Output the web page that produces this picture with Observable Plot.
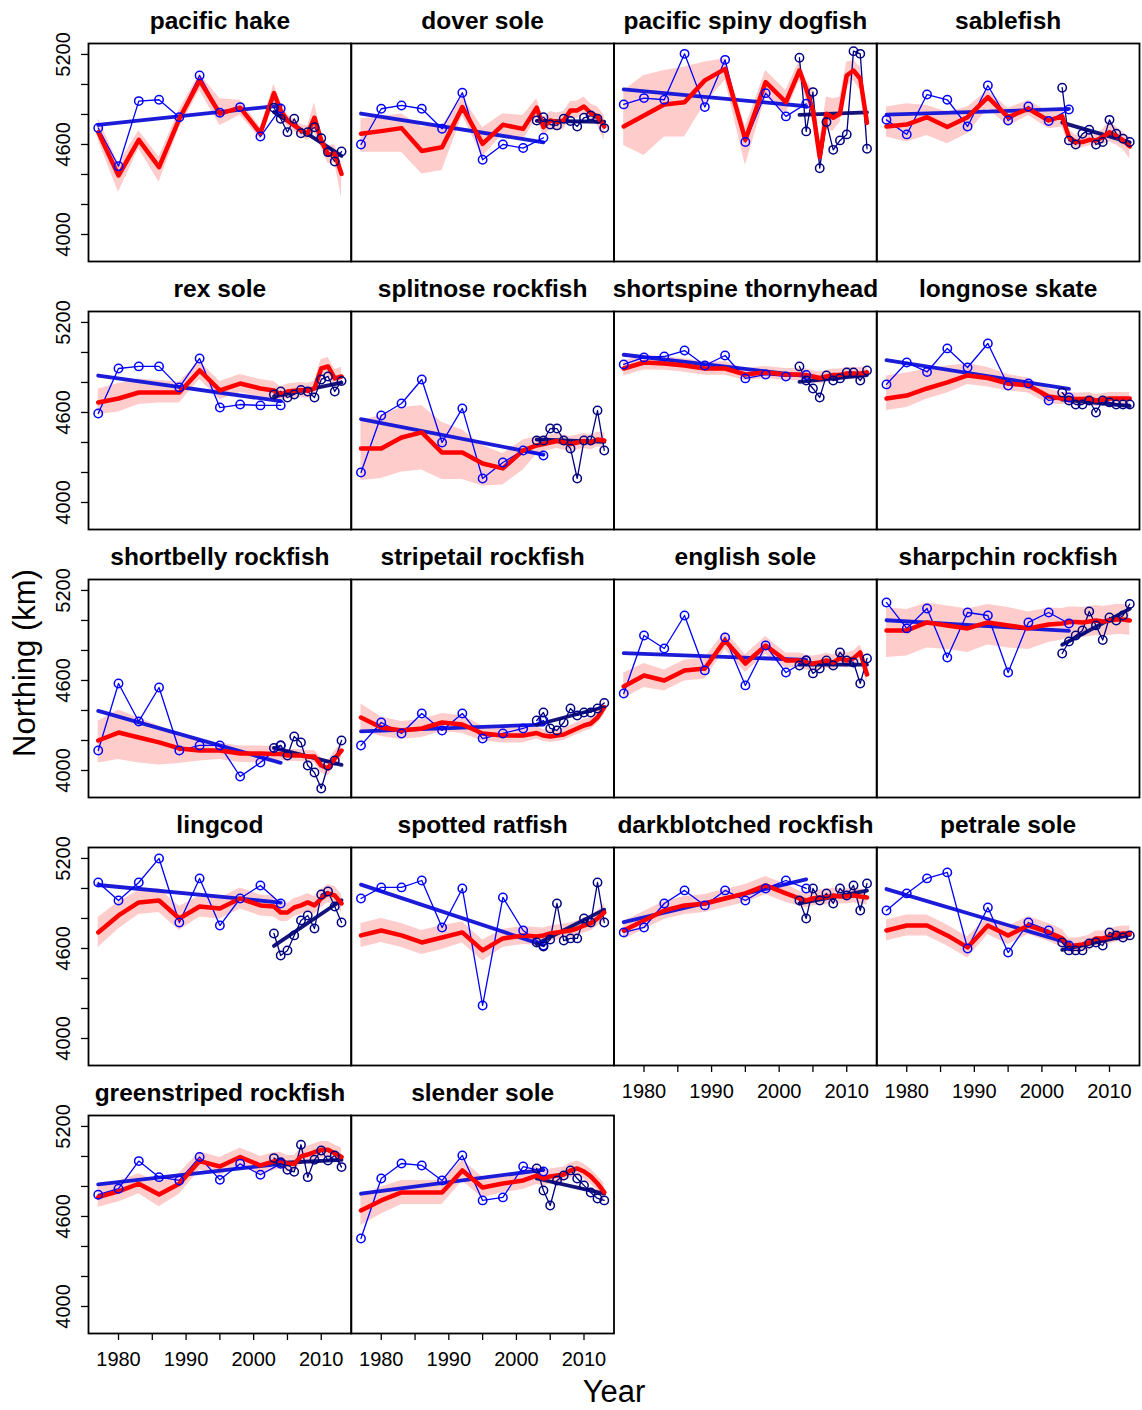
<!DOCTYPE html>
<html><head><meta charset="utf-8">
<script src="https://cdn.jsdelivr.net/npm/d3@7"></script>
<script src="https://cdn.jsdelivr.net/npm/@observablehq/plot@0.6"></script>
<style>body{margin:0;background:#fff;} #chart{width:1142px;height:1410px;}</style>
</head><body><div id="chart"></div>
<script>
// ---------------- DATA ----------------
const species = ["pacific hake","dover sole","pacific spiny dogfish","sablefish",
  "rex sole","splitnose rockfish","shortspine thornyhead","longnose skate",
  "shortbelly rockfish","stripetail rockfish","english sole","sharpchin rockfish",
  "lingcod","spotted ratfish","darkblotched rockfish","petrale sole",
  "greenstriped rockfish","slender sole"];

const triYears = [1977,1980,1983,1986,1989,1992,1995,1998,2001,2004];
const annYears = [2003,2004,2005,2006,2007,2008,2009,2010,2011,2012,2013];
const modYears = [1977,1980,1983,1986,1989,1992,1995,1998,2001,2003,2004,2005,2006,2007,2008,2009,2010,2011,2012,2013];

const yTicks = [4000,4200,4400,4600,4800,5000,5200];
const yLabels = [4000,4600,5200];
const xTicks = [1980,1985,1990,1995,2000,2005,2010];
const xLabels = [1980,1990,2000,2010];

// triennial survey observations
const tri = [
  [4710,4455,4889,4898,4782,5060,4811,4849,4653,4840],
  [4600,4838,4860,4838,4705,4945,4498,4600,4576,4645],
  [4867,4909,4898,5204,4849,5164,4616,4942,4787,4871],
  [4764,4667,4933,4898,4720,4993,4760,4853,4756,4833],
  [4593,4893,4907,4907,4767,4960,4633,4653,4647,4647],
  [4200,4580,4660,4820,4400,4627,4160,4267,4347,4313],
  [4920,4967,4973,5013,4913,4980,4827,4853,4840,4850],
  [4787,4933,4870,5027,4900,5060,4780,4793,4680,4700],
  [4133,4580,4327,4553,4133,4167,4167,3960,4053,4167],
  [4167,4320,4247,4380,4267,4380,4213,4247,4280,4333],
  [4513,4900,4813,5033,4667,4887,4567,4833,4653,4733],
  [5120,4947,5080,4753,5053,5033,4653,4987,5053,4980],
  [5040,4920,5040,5200,4773,5067,4753,4933,5020,4900],
  [4933,5007,5007,5053,4740,5000,4220,4940,4720,4620],
  [4707,4740,4900,4987,4887,4987,4920,5000,5053,5000],
  [4853,4967,5067,5107,4600,4873,4573,4773,4720,4620],
  [4745,4785,4969,4862,4840,4996,4844,4951,4878,4951],
  [4453,4853,4953,4940,4840,5007,4707,4727,4933,4900]
];

// annual survey observations
const ann = [
  [4845,4771,4682,4771,4675,4682,4715,4642,4549,4487,4553],
  [4760,4782,4733,4727,4771,4756,4720,4778,4793,4771,4709],
  [5178,4687,4949,4442,4749,4564,4627,4667,5222,5204,4571],
  [4978,4627,4600,4671,4698,4600,4616,4764,4671,4638,4616],
  [4720,4740,4700,4720,4750,4740,4700,4820,4840,4740,4810],
  [4413,4413,4493,4493,4413,4360,4160,4413,4413,4613,4347],
  [4907,4813,4760,4700,4847,4813,4827,4867,4867,4813,4880],
  [4733,4680,4653,4653,4680,4600,4680,4667,4653,4653,4653],
  [4150,4167,4100,4227,4187,4033,3987,3880,4033,4067,4200],
  [4333,4387,4280,4267,4320,4413,4367,4387,4387,4413,4450],
  [4700,4733,4647,4680,4733,4700,4787,4733,4720,4580,4747],
  [4780,4860,4900,4933,5060,4967,4870,5020,5000,5033,5110],
  [4700,4553,4587,4687,4787,4820,4733,4960,4980,4880,4773],
  [4640,4613,4660,4900,4653,4667,4667,4800,4773,5040,4773],
  [4920,4800,5000,4920,4967,4900,5000,4953,5020,4853,5033],
  [4640,4587,4587,4587,4633,4640,4620,4707,4687,4673,4687],
  [4989,4962,4911,4898,5078,4862,4978,5040,4973,5007,4929],
  [4920,4773,4673,4840,4873,4907,4853,4807,4760,4720,4707]
];

// model estimate
const mod = [
  [4682,4393,4631,4449,4771,5027,4805,4845,4675,4942,4827,4760,4727,4693,4675,4778,4627,4533,4538,4404],
  [4671,4689,4709,4556,4582,4849,4604,4731,4704,4845,4716,4760,4749,4760,4827,4827,4853,4809,4787,4720],
  [4720,4793,4867,4882,5027,5104,4631,5016,4882,5093,4971,4827,4516,4805,4778,4805,5060,5093,5038,4744],
  [4720,4733,4782,4716,4782,4916,4782,4838,4760,4787,4649,4616,4616,4631,4627,4649,4682,4656,4627,4587],
  [4667,4693,4733,4733,4733,4880,4747,4793,4760,4747,4720,4740,4745,4750,4745,4760,4893,4907,4827,4840],
  [4360,4360,4433,4467,4333,4333,4260,4227,4347,4380,4390,4400,4410,4400,4390,4400,4410,4400,4420,4413],
  [4893,4933,4927,4913,4893,4893,4853,4867,4853,4853,4850,4840,4830,4840,4850,4850,4860,4860,4860,4867],
  [4693,4713,4760,4800,4847,4830,4793,4780,4707,4693,4693,4690,4690,4693,4680,4687,4693,4693,4693,4693],
  [4200,4253,4220,4187,4147,4133,4133,4113,4113,4110,4110,4100,4100,4100,4093,4093,4033,4013,4080,4133],
  [4353,4287,4267,4280,4320,4307,4247,4233,4233,4250,4233,4227,4233,4240,4260,4280,4300,4313,4353,4420],
  [4560,4633,4600,4667,4680,4867,4713,4833,4733,4733,4720,4713,4720,4733,4720,4747,4733,4747,4787,4640],
  [4933,4933,4987,4967,4947,4987,4967,4947,4973,4980,4990,4990,4987,4993,5000,4993,5000,5007,5007,5000],
  [4707,4820,4907,4920,4800,4880,4867,4933,4887,4880,4840,4840,4873,4887,4907,4887,4933,4967,4953,4900],
  [4687,4720,4687,4640,4673,4707,4587,4667,4687,4680,4687,4700,4707,4713,4720,4733,4753,4767,4800,4840],
  [4720,4787,4853,4887,4900,4933,4967,5020,4967,4933,4920,4933,4940,4940,4953,4947,4947,4953,4947,4940],
  [4720,4753,4753,4687,4607,4753,4687,4753,4707,4667,4620,4620,4627,4640,4667,4667,4680,4693,4700,4700],
  [4729,4767,4818,4747,4818,4969,4933,4996,4940,4967,4973,4951,4951,5000,5013,5029,5044,5044,5022,4996],
  [4640,4707,4760,4760,4760,4907,4793,4820,4840,4873,4853,4867,4873,4880,4907,4920,4900,4867,4820,4760]
];

// confidence band: distance of upper / lower edge from the model estimate
const bandUp = [
  [90,78,60,67,60,44,100,50,40,60,50,40,40,40,50,100,50,60,60,70],
  [100,95,95,160,145,67,107,73,89,60,60,60,60,60,60,63,63,60,65,73],
  [240,267,226,234,122,67,85,77,78,67,56,133,111,111,127,111,89,67,78,83],
  [129,138,78,100,67,44,60,55,56,62,50,45,40,40,40,50,78,60,55,62],
  [90,100,90,80,70,60,60,60,60,60,50,50,50,50,50,50,60,60,60,60],
  [187,220,200,180,200,150,120,100,70,60,50,50,50,50,50,50,50,50,50,50],
  [50,50,45,45,45,45,40,40,40,40,40,40,40,40,40,40,40,40,40,40],
  [150,150,130,110,80,70,60,50,50,40,40,40,40,40,40,40,40,40,40,40],
  [130,150,130,110,80,60,50,50,50,50,40,40,40,40,40,40,50,50,50,50],
  [90,70,60,60,60,60,50,50,50,40,40,40,40,40,40,40,40,40,40,50],
  [90,80,70,70,70,60,60,60,50,50,50,50,50,50,50,50,50,50,50,60],
  [150,140,130,130,130,120,120,110,110,100,100,100,100,100,100,100,100,100,100,100],
  [100,90,80,80,80,70,70,70,70,70,60,60,60,60,60,60,60,60,60,60],
  [80,80,80,80,80,70,70,60,60,60,50,50,50,50,50,50,50,50,50,60],
  [60,60,60,60,60,60,60,60,60,50,50,50,50,50,50,50,50,50,50,50],
  [70,70,70,70,70,60,60,60,60,60,50,50,50,50,50,50,50,50,50,50],
  [67,70,67,83,70,60,60,60,60,60,55,55,55,55,55,55,55,55,55,60],
  [100,90,80,80,80,70,70,60,60,60,50,50,50,50,50,50,50,50,50,60]
];
const bandDn = [
  [55,111,60,100,60,67,78,50,40,50,50,40,40,40,50,100,50,60,60,160],
  [122,140,160,152,155,56,88,60,77,63,60,60,60,60,55,55,49,55,60,93],
  [127,266,218,233,156,77,171,100,78,66,71,80,67,112,88,58,78,66,78,95],
  [71,117,122,112,111,78,60,45,56,71,50,45,40,40,40,50,66,60,60,83],
  [80,90,80,70,70,60,60,60,60,60,50,50,50,50,50,50,60,60,60,60],
  [213,200,230,250,180,180,150,110,130,60,50,50,50,50,50,50,50,50,50,50],
  [50,50,45,45,45,45,40,40,40,40,40,40,40,40,40,40,40,40,40,40],
  [80,80,70,70,60,60,50,50,50,40,40,40,40,40,40,40,40,40,40,40],
  [150,180,170,150,100,70,60,60,60,50,40,40,40,40,40,40,50,50,50,50],
  [90,60,60,60,60,60,50,50,50,40,40,40,40,40,40,40,40,40,40,50],
  [80,80,70,70,70,60,60,60,50,50,50,50,50,50,50,50,50,50,50,60],
  [180,170,170,160,160,150,150,140,120,110,100,100,100,100,100,100,100,100,100,100],
  [100,90,80,80,80,70,70,70,70,70,60,60,60,60,60,60,60,60,60,60],
  [80,80,80,80,80,70,70,60,60,60,50,50,50,50,50,50,50,50,50,60],
  [60,60,60,60,60,60,60,60,60,50,50,50,50,50,50,50,50,50,50,50],
  [70,70,70,70,70,60,60,60,60,60,50,50,50,50,50,50,50,50,50,50],
  [67,70,67,83,70,60,60,60,60,60,55,55,55,55,55,55,55,55,55,60],
  [100,90,80,80,80,70,70,60,60,60,50,50,50,50,50,50,50,50,50,60]
];

// ---------------- TIDY TABLES ----------------
const triRows = [], annRows = [], modRows = [], titleRows = [];
species.forEach((name, i) => {
  const col = i % 4, row = Math.floor(i / 4);
  titleRows.push({name, col, row});
  triYears.forEach((year, j) => triRows.push({name, col, row, year, v: tri[i][j]}));
  annYears.forEach((year, j) => annRows.push({name, col, row, year, v: ann[i][j]}));
  modYears.forEach((year, j) => modRows.push({name, col, row, year, v: mod[i][j],
    lo: mod[i][j] - bandDn[i][j], hi: mod[i][j] + bandUp[i][j]}));
});

const F = {fx: "col", fy: "row"};
const triBlue = "#0000ff", annNavy = "#000080";

const chart = Plot.plot({
  width: 1142,
  height: 1410,
  marginLeft: 88,
  marginRight: 3,
  marginTop: 43,
  marginBottom: 77,
  style: {fontFamily: "'Liberation Sans', Arial, Helvetica, sans-serif", color: "black", background: "white"},
  fx: {domain: [0,1,2,3], axis: null, paddingInner: 0, paddingOuter: 0, round: false},
  fy: {domain: [0,1,2,3,4], axis: null, paddingInner: 50/268, paddingOuter: 0, round: false},
  x: {domain: [1975.56, 2014.44]},
  y: {domain: [3820, 5273]},
  marks: [
    Plot.areaY(modRows, {...F, x: "year", y1: "lo", y2: "hi", z: "name", fill: "#ffcccc"}),
    Plot.linearRegressionY(triRows, {...F, x: "year", y: "v", stroke: "#1c1cd8", strokeWidth: 3.8, ci: 0}),
    Plot.linearRegressionY(annRows, {...F, x: "year", y: "v", stroke: "#14147a", strokeWidth: 3.8, ci: 0}),
    Plot.line(triRows, {...F, x: "year", y: "v", z: "name", stroke: triBlue, strokeWidth: 1.3}),
    Plot.line(annRows, {...F, x: "year", y: "v", z: "name", stroke: annNavy, strokeWidth: 1.3}),
    Plot.line(modRows, {...F, x: "year", y: "v", z: "name", stroke: "red", strokeWidth: 4.5}),
    Plot.dot(triRows, {...F, x: "year", y: "v", r: 4.2, stroke: triBlue, strokeWidth: 1.5, fill: "none"}),
    Plot.dot(annRows, {...F, x: "year", y: "v", r: 4.2, stroke: annNavy, strokeWidth: 1.5, fill: "none"}),
    Plot.text(titleRows, {...F, text: "name", frameAnchor: "top", dy: -15, lineAnchor: "bottom",
      fontSize: 24.5, fontWeight: "bold", fill: "black"}),
    Plot.axisY({ticks: yTicks, tickFormat: d => yLabels.includes(d) ? String(d) : "",
      tickRotate: -90, tickSize: 7, tickPadding: 12, fontSize: 20, strokeWidth: 1.3, label: null, anchor: "left"}),
    Plot.axisX({ticks: xTicks, tickFormat: d => xLabels.includes(d) ? String(d) : "",
      tickSize: 7, tickPadding: 11, fontSize: 20, strokeWidth: 1.3, label: null, anchor: "bottom"}),
    Plot.frame({stroke: "black", strokeWidth: 1.8})
  ]
});

document.getElementById("chart").appendChild(chart);
const svg = d3.select(chart);
svg.append("text").attr("transform", "translate(35,663) rotate(-90)")
  .attr("text-anchor", "middle").attr("font-size", 31).attr("fill", "black").text("Northing (km)");
svg.append("text").attr("x", 614).attr("y", 1402)
  .attr("text-anchor", "middle").attr("font-size", 31).attr("fill", "black").text("Year");
</script>
</body></html>
